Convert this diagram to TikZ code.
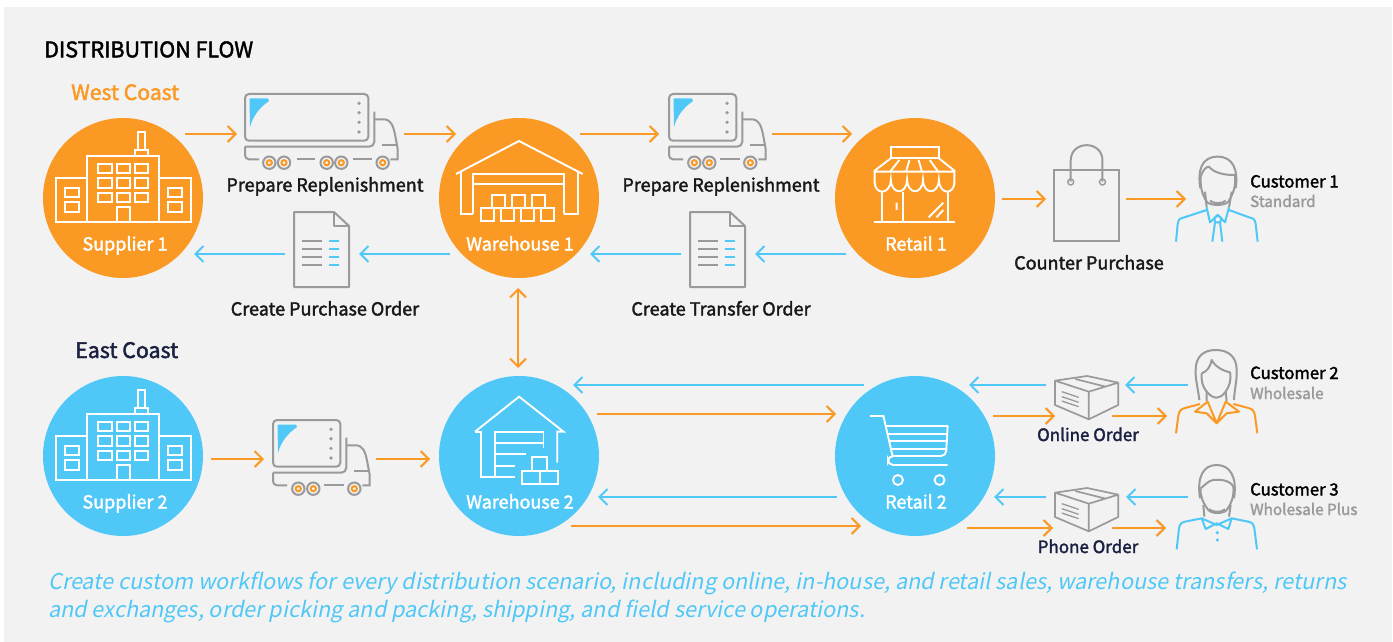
\documentclass[tikz,border=0pt]{standalone}
\usepackage{fontspec}
\setmainfont{Noto Sans CJK SC}
\newfontfamily\labf[FakeBold=2]{Noto Sans CJK SC}
\newfontfamily\capf[FakeSlant=0.2]{Noto Sans CJK SC}
\usetikzlibrary{arrows.meta}
\definecolor{oran}{HTML}{FA9A25}
\definecolor{sky}{HTML}{4FC8F7}
\definecolor{gry}{HTML}{999A9C}
\definecolor{panel}{HTML}{F2F2F2}
\definecolor{navy}{HTML}{1A2040}
\tikzset{
  hubO/.style={circle,fill=oran,draw=none,minimum size=160pt,inner sep=0pt},
  hubB/.style={circle,fill=sky,draw=none,minimum size=160pt,inner sep=0pt},
  oarr/.style={draw=oran,line width=2pt,-{Straight Barb[length=8pt,width=16pt,line width=2pt]}},
  barr/.style={draw=sky,line width=2pt,-{Straight Barb[length=8pt,width=16pt,line width=2pt]}},
  gln/.style={draw=gry,line width=2pt},
  wln/.style={draw=white,line width=1.9pt},
  oln/.style={draw=oran,line width=2pt},
  bln/.style={draw=sky,line width=2pt},
  zthree/.style={x=0.33333pt,y=-0.33333pt},
  zsec/.style={x=0.33807pt,y=-0.33333pt},
  zfif/.style={x=0.36996pt,y=-0.33333pt},
  lab/.style={anchor=base,inner sep=0pt,font=\labf\fontsize{18pt}{20pt}\selectfont,text=black!90},
  hublab/.style={anchor=base,inner sep=0pt,font=\labf\fontsize{18pt}{20pt}\selectfont,text=white},
  custn/.style={anchor=base west,inner sep=0pt,font=\labf\fontsize{16.7pt}{20pt}\selectfont,text=black},
  custs/.style={anchor=base west,inner sep=0pt,font=\labf\fontsize{15.3pt}{20pt}\selectfont,text=gry},
  caplab/.style={anchor=base west,inner sep=0pt,font=\capf\fontsize{21.7pt}{26pt}\selectfont,text=sky},
}
% truck: origin at top-left of the box
\newcommand{\truckbody}[1]{%
  \fill[sky] (4.5,4.5) -- (23,4.5) [rounded corners=0pt] -- (24,7) .. controls (14,14) and (8,22) .. (5,33) -- cycle;
  \draw[gln,rounded corners=4pt] (0,0) rectangle (#1,46.7);
  \foreach \q in {9.3,18.7,28.3,38}{\fill[gry] ({#1-9.3},\q) circle (1.8pt);}
  \draw[gln,rounded corners=5pt] (0,52.7) -- ({#1+6},52.7) -- ({#1+6},17.5);
  \draw[gln] ({#1+6},25.3) -- ({#1+15},25.3) .. controls ({#1+23},25.3) and ({#1+25},32) .. ({#1+27},42) -- ({#1+29.4},55) -- ({#1+29.4},65.3) -- ({#1+22},65.3);
  \draw[gln] ({#1+14},51) -- ({#1+29},51);
  \draw[gln,rounded corners=4pt] (0,52.7) -- (0,65.3) -- (14,65.3);
}
\newcommand{\truckwheel}[1]{%
  \draw[gry,line width=2pt,fill=panel] (#1,68.7) circle (6.2pt);
  \draw[oran,line width=2pt,fill=panel] (#1,68.7) circle (2.6pt);
}
\newcommand{\docicon}{%
  \draw[gln,line join=round] (0,0) -- (40,0) -- (55,14) -- (55,75) -- (0,75) -- cycle;
  \draw[gln,line join=round] (40,0) -- (40,14) -- (55,14);
  \foreach \q in {29.3,37.3,45.3,53.3}{
    \draw[gry,line width=2pt] (8.3,\q) -- (28.3,\q);
    \draw[sky,line width=2pt] (35,\q) -- (45,\q);
  }
}
\newcommand{\boxicon}{%
  \draw[draw=gry,line width=1.7pt,line join=round] (0,14) -- (95,0) -- (187,20) -- (187,87) -- (100,130) -- (0,87) -- cycle;
  \draw[draw=gry,line width=1.7pt,line join=round] (0,14) -- (100,47) -- (187,20) (100,47) -- (100,130) (60,9) -- (150,32);
  \draw[draw=gry,line width=1.3pt] (20,47) -- (70,64) (20,62) -- (70,79) (20,75) -- (70,92);
}
\newcommand{\factoryicon}{%
  \draw[wln] (172,228) rectangle (388,425) (77,295) rectangle (172,425) (388,295) rectangle (484,425);
  \draw[wln] (315,210) rectangle (355,228) (325,155) rectangle (345,210);
  \draw[wln] (260,425) -- (260,380) -- (300,380) -- (300,425);
  \foreach \a in {205,260,315}\foreach \b in {252,295,338}{\draw[wln] (\a,\b) rectangle ++(40,28);}
  \foreach \a in {105,415}\foreach \b in {323,367}{\draw[wln] (\a,\b) rectangle ++(42,28);}
}
\begin{document}
\begin{tikzpicture}[x=1pt,y=-1pt]
\useasboundingbox (0,0) rectangle (1393,642);
\fill[white] (0,0) rectangle (1393,642);
\fill[panel] (4,7) rectangle (1392,642);

% hubs
\node[hubO] (s1) at (123,198) {};
\node[hubO] (w1) at (519,198) {};
\node[hubO] (r1) at (915,198) {};
\node[hubB] (s2) at (123,456) {};
\node[hubB] (w2) at (519,456) {};
\node[hubB] (r2) at (915,456) {};
% icon anchors
\coordinate (t1) at (245,94);
\coordinate (t2) at (669,94);
\coordinate (t3) at (273,420);
\coordinate (d1) at (294,212);
\coordinate (d2) at (690,212);
\coordinate (bag) at (1054,170);
\coordinate (b1) at (1055,376);
\coordinate (b2) at (1055,488);
\coordinate (c1) at (1216,200);
\coordinate (c2) at (1216,385);
\coordinate (c3) at (1216,497);

% trucks
\begin{scope}[shift={(t1)}]
 \truckbody{123.3}
 \draw[gln] (51.7,65.3) -- (70,65.3) (107.7,65.3) -- (127,65.3);
 \foreach \q in {24.3,39,81.7,96.3,137.7}{\truckwheel{\q}}
\end{scope}
\begin{scope}[shift={(t2)}]
 \truckbody{67.3}
 \draw[gln] (51.3,65.3) -- (71.3,65.3);
 \foreach \q in {25.3,40.3,81.3}{\truckwheel{\q}}
\end{scope}
\begin{scope}[shift={(t3)}]
 \truckbody{67.3}
 \draw[gln] (51.3,65.3) -- (71.3,65.3);
 \foreach \q in {25.3,40.3,81.3}{\truckwheel{\q}}
\end{scope}
% documents
\begin{scope}[shift={(d1)}]\docicon\end{scope}
\begin{scope}[shift={(d2)}]\docicon\end{scope}
% factories
\begin{scope}[shift={(30,80)},zthree]\factoryicon\end{scope}
\begin{scope}[shift={(30,338)},zthree]\factoryicon\end{scope}
% warehouse 1
\begin{scope}[shift={(430,80)},zthree]
 \draw[wln,line join=miter] (78,282) -- (267,183) -- (458,282);
 \draw[wln] (92,275) -- (92,403) -- (130,403) (443,275) -- (443,403) -- (403,403);
 \draw[wln] (130,403) -- (130,282) -- (403,282) -- (403,403) (130,312) -- (403,312);
 \foreach \a in {185,245,305}{\draw[wln,fill=oran] (\a,345) rectangle ++(40,40);}
 \foreach \a in {152,212,273,333}{\draw[wln,fill=oran] (\a,385) rectangle ++(40,38);}
\end{scope}
% warehouse 2
\begin{scope}[shift={(30,370)},zfif]
 \draw[wln] (1203,185) -- (1322,80) -- (1442,185) -- (1425,185) -- (1425,278);
 \draw[wln] (1203,185) -- (1220,185) -- (1220,322) -- (1310,322);
 \draw[wln] (1256,322) -- (1256,185) -- (1388,185) -- (1388,235) (1256,218) -- (1388,218) (1256,253) -- (1340,253) (1256,288) -- (1310,288);
 \draw[wln,fill=sky] (1358,260) rectangle (1398,302);
 \draw[wln,fill=sky] (1330,302) rectangle (1378,342);
 \draw[wln,fill=sky] (1378,302) rectangle (1426,342);
\end{scope}
% shop
\begin{scope}[shift={(830,130)},zsec]
 \draw[wln] (180,52) rectangle (322,85);
 \draw[wln] (180,85) -- (132,122) -- (132,160) (322,85) -- (368,122) -- (368,160) (132,125) -- (368,125);
 \draw[wln] (205,90) -- (178,125) (235,90) -- (225,125) (262,90) -- (272,125) (295,90) -- (320,125);
 \draw[wln] (132,158) .. controls (134,195) and (178,195) .. (180,150) .. controls (182,195) and (226,195) .. (228,150) .. controls (230,195) and (273,195) .. (275,150) .. controls (277,195) and (320,195) .. (322,150) .. controls (324,195) and (366,195) .. (368,158);
 \draw[wln] (155,182) -- (155,275) (348,182) -- (348,275) (130,275) -- (370,275) (217,185) -- (217,275);
 \draw[wln] (197,218) -- (197,240) (292,262) -- (335,218) (315,262) -- (335,240);
\end{scope}
% cart
\begin{scope}[shift={(830,340)},zsec]
 \draw[wln] (118,228) -- (158,228) -- (185,348);
 \draw[wln] (162,258) -- (348,258);
 \draw[wln] (169,282) -- (345,282) (174,304) -- (345,304) (180,327) -- (345,327);
 \draw[wln,rounded corners=5pt] (348,258) -- (343,348) -- (172,348) -- (172,375) -- (348,375);
 \draw[wln] (201,420) circle (5pt) (324,420) circle (5pt);
\end{scope}
% bag
\begin{scope}[shift={(830,130)},zsec]
 \draw[gln] (663,120) rectangle (855,333);
 \draw[gln] (712,155) -- (712,92) .. controls (712,30) and (806,30) .. (806,92) -- (806,155);
 \draw[gry,line width=1.4pt] (712,156) circle (3pt) (806,156) circle (3pt);
\end{scope}
% boxes
\begin{scope}[shift={(b1)},zsec]\boxicon\end{scope}
\begin{scope}[shift={(b2)},zsec]\boxicon\end{scope}
% customer 1
\begin{scope}[shift={(1165,150)},zthree]
 \draw[gln] (106,115) .. controls (97,60) and (110,20) .. (158,20) .. controls (205,20) and (220,60) .. (212,115);
 \draw[gln,line join=round] (107,80) .. controls (112,62) and (125,48) .. (132,50) .. controls (145,68) and (180,76) .. (210,75) .. controls (213,110) and (205,130) .. (190,155) .. controls (180,168) and (135,168) .. (125,155) .. controls (112,135) and (105,110) .. (107,80);
 \draw[gln] (120,125) -- (125,172) (200,125) -- (192,172) (135,152) .. controls (145,162) and (172,162) .. (182,152);
 \draw[bln,line join=round] (33,275) -- (38,222) .. controls (40,208) and (45,205) .. (55,203) -- (125,180);
 \draw[bln,line join=round] (278,275) -- (272,222) .. controls (270,208) and (265,205) .. (255,203) -- (192,180);
 \draw[bln,line join=round] (125,172) -- (135,217) -- (158,195) -- (180,217) -- (192,172);
 \draw[bln,line join=round] (148,205) -- (158,195) -- (170,205) -- (165,217) -- (150,217) -- cycle;
 \draw[bln] (150,217) -- (142,275) (165,217) -- (172,275);
\end{scope}
% customer 2
\begin{scope}[shift={(1165,345)},zthree]
 \draw[gln] (103,165) .. controls (100,135) and (90,100) .. (92,75) .. controls (92,35) and (115,15) .. (152,15) .. controls (190,15) and (215,35) .. (215,75) .. controls (217,100) and (208,135) .. (207,165);
 \draw[gln,line join=round] (110,85) .. controls (125,80) and (137,65) .. (140,45) .. controls (150,65) and (175,78) .. (195,82) .. controls (200,105) and (192,125) .. (182,140) .. controls (172,152) and (165,158) .. (155,158) .. controls (145,158) and (135,152) .. (125,140) .. controls (112,125) and (108,105) .. (110,85);
 \draw[gln] (125,140) -- (125,168) (182,140) -- (185,168);
 \draw[oln,line join=round] (33,265) -- (40,212) .. controls (42,198) and (48,192) .. (60,189) -- (105,177);
 \draw[oln,line join=round] (277,265) -- (270,212) .. controls (268,198) and (262,192) .. (250,189) -- (205,177);
 \draw[oln,line join=round] (128,170) -- (155,235) -- (182,170) -- (222,200) -- (185,205) -- (155,235) -- (125,205) -- (90,200) -- cycle;
\end{scope}
% customer 3
\begin{scope}[shift={(1165,460)},zthree]
 \draw[gln] (105,115) .. controls (95,50) and (115,15) .. (155,15) .. controls (195,15) and (217,50) .. (207,115);
 \draw[gln,line join=round] (107,85) .. controls (120,75) and (130,62) .. (145,60) .. controls (165,58) and (195,60) .. (205,80) .. controls (208,105) and (200,130) .. (185,150) .. controls (175,162) and (140,162) .. (130,150) .. controls (115,130) and (105,110) .. (107,85);
 \draw[gln] (115,135) -- (118,170) (197,135) -- (192,170) (132,148) .. controls (145,158) and (168,158) .. (180,148);
 \draw[bln,line join=round] (110,175) -- (155,195) -- (200,175) -- (190,207) -- (155,190) -- (122,207) -- cycle;
 \draw[bln,line join=round] (35,268) -- (42,205) .. controls (44,192) and (50,187) .. (60,185) -- (110,175);
 \draw[bln,line join=round] (276,268) -- (268,205) .. controls (266,192) and (260,187) .. (250,185) -- (200,175);
 \fill[sky] (157,218) circle (1.8pt) (157,240) circle (1.8pt);
\end{scope}

% connectors
\draw[oarr] ([shift={(62,-64)}]s1.center) -- ([shift={(-8,40)}]t1);
\draw[oarr] ([shift={(159,40)}]t1) -- ([shift={(-63,-64)}]w1.center);
\draw[oarr] ([shift={(61,-64)}]w1.center) -- ([shift={(-10,40)}]t2);
\draw[oarr] ([shift={(103,40)}]t2) -- ([shift={(-63,-64)}]r1.center);
\draw[barr] ([shift={(-9,42)}]d1) -- ([shift={(71,56)}]s1.center);
\draw[barr] ([shift={(-69,56)}]w1.center) -- ([shift={(65,42)}]d1);
\draw[barr] ([shift={(-69,56)}]r1.center) -- ([shift={(65,42)}]d2);
\draw[barr] ([shift={(-9,42)}]d2) -- ([shift={(71,56)}]w1.center);
\draw[oarr,{Straight Barb[length=8pt,width=16pt,line width=2pt]}-{Straight Barb[length=8pt,width=16pt,line width=2pt]}] ([shift={(-1,90)}]w1.center) -- ([shift={(-1,-88)}]w2.center);
\draw[oarr] ([shift={(87,1)}]r1.center) -- ([shift={(-8,29)}]bag);
\draw[oarr] ([shift={(72,29)}]bag) -- ([shift={(-30,-1)}]c1);
\draw[oarr] ([shift={(88,3)}]s2.center) -- ([shift={(-9,39)}]t3);
\draw[oarr] ([shift={(103,39)}]t3) -- ([shift={(-89,3)}]w2.center);
\draw[barr] ([shift={(-51,-71)}]r2.center) -- ([shift={(54,-71)}]w2.center);
\draw[oarr] ([shift={(78,-42)}]w2.center) -- ([shift={(-79,-42)}]r2.center);
\draw[barr] ([shift={(-78,41)}]r2.center) -- ([shift={(79,41)}]w2.center);
\draw[oarr] ([shift={(52,70)}]w2.center) -- ([shift={(-54,70)}]r2.center);
\draw[barr] ([shift={(-9,9)}]b1) -- ([shift={(54,-71)}]r2.center);
\draw[barr] ([shift={(-28,0)}]c2) -- ([shift={(70,9)}]b1);
\draw[oarr] ([shift={(78,-40)}]r2.center) -- ([shift={(0,40)}]b1);
\draw[oarr] ([shift={(57,40)}]b1) -- ([shift={(-49,31)}]c2);
\draw[barr] ([shift={(-9,9)}]b2) -- ([shift={(79,41)}]r2.center);
\draw[barr] ([shift={(-28,0)}]c3) -- ([shift={(71,9)}]b2);
\draw[oarr] ([shift={(52,72)}]r2.center) -- ([shift={(-2,40)}]b2);
\draw[oarr] ([shift={(57,40)}]b2) -- ([shift={(-50,31)}]c3);

% text
\node[anchor=base west,inner sep=0pt,font=\labf\fontsize{21.5pt}{24pt}\selectfont,text=black] (title) at (44,57.3) {DISTRIBUTION FLOW};
\node[anchor=base west,inner sep=0pt,font=\labf\fontsize{21.2pt}{24pt}\selectfont,text=oran] (west) at (71,100) {West Coast};
\node[anchor=base west,inner sep=0pt,font=\labf\fontsize{21.4pt}{24pt}\selectfont,text=navy] (east) at (75,358) {East Coast};
\node[hublab] (ls1) at (125,250.5) {Supplier 1};
\node[hublab] (lw1) at (520,250.5) {Warehouse 1};
\node[hublab] (lr1) at (916,250.5) {Retail 1};
\node[hublab] (ls2) at (125,508.5) {Supplier 2};
\node[hublab] (lw2) at (520,508.5) {Warehouse 2};
\node[hublab] (lr2) at (916,508.5) {Retail 2};
\node[lab] (lt1) at (325,191.5) {Prepare Replenishment};
\node[lab] (lt2) at (721,191.5) {Prepare Replenishment};
\node[lab] (ld1) at (325,315.5) {Create Purchase Order};
\node[lab] (ld2) at (721,315.5) {Create Transfer Order};
\node[lab] (lbag) at (1089,269.5) {Counter Purchase};
\node[lab,text=navy,font=\labf\fontsize{17pt}{20pt}\selectfont] (lb1) at (1088,441) {Online Order};
\node[lab,text=navy,font=\labf\fontsize{17pt}{20pt}\selectfont] (lb2) at (1088,553) {Phone Order};
\node[custn] (n1) at (1250,187.5) {Customer 1};
\node[custs] (m1) at (1250,207) {Standard};
\node[custn] (n2) at (1250,379) {Customer 2};
\node[custs] (m2) at (1250,399) {Wholesale};
\node[custn] (n3) at (1250,495.5) {Customer 3};
\node[custs] (m3) at (1250,515) {Wholesale Plus};
\node[caplab] (cap1) at (48,589) {Create custom workflows for every distribution scenario, including online, in-house, and retail sales, warehouse transfers, returns};
\node[caplab] (cap2) at (48,617) {and exchanges, order picking and packing, shipping, and field service operations.};
\end{tikzpicture}
\end{document}
